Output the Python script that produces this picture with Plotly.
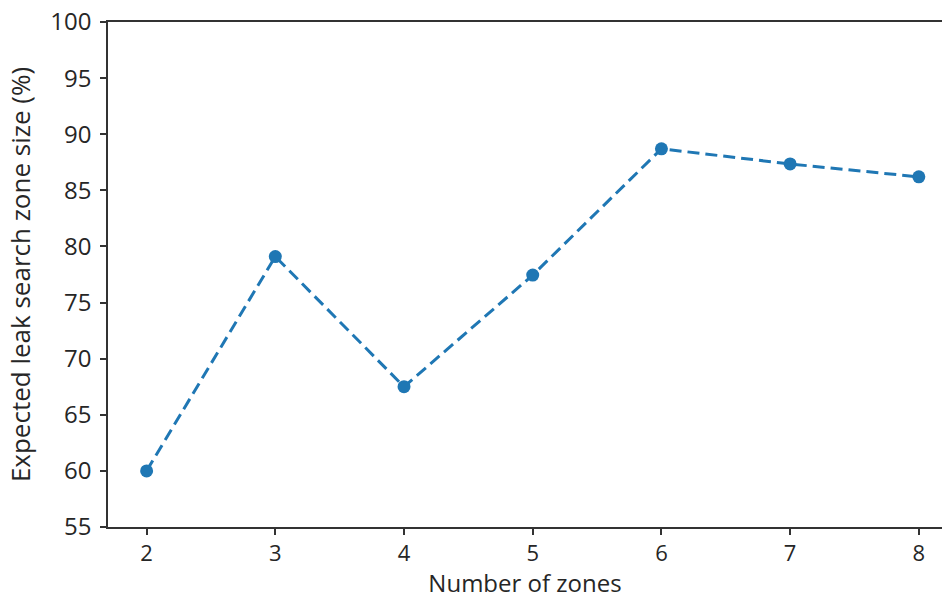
import plotly.graph_objects as go

zones = [2, 3, 4, 5, 6, 7, 8]
search_size = [60.0, 79.1, 67.5, 77.45, 88.7, 87.35, 86.2]
x_ticks = [2, 3, 4, 5, 6, 7, 8]
y_ticks = [55, 60, 65, 70, 75, 80, 85, 90, 95, 100]

FONT = "Open Sans"
fig = go.Figure()
fig.add_trace(go.Scatter(
    x=zones, y=search_size, mode="lines+markers",
    line=dict(color="#1f77b4", width=3, dash="12px,6px"),
    marker=dict(color="#1f77b4", size=13),
    showlegend=False,
))

fig.update_layout(
    width=943, height=599,
    margin=dict(l=108, r=1, t=22, b=72),
    paper_bgcolor="white", plot_bgcolor="white",
    font=dict(family=FONT, size=24, color="#262626"),
    xaxis=dict(
        range=[1.7, 8.18], tickmode="array", tickvals=x_ticks,
        ticktext=[str(t) for t in x_ticks],
        showgrid=False, zeroline=False,
        showline=True, linecolor="#333333", linewidth=1.5, mirror=True,
        ticks="outside", ticklen=6, tickwidth=1.5, tickcolor="#333333",
        tickfont=dict(size=22),
        title=dict(text="Number of zones", standoff=14, font=dict(size=24)),
    ),
    yaxis=dict(
        range=[55, 100], tickmode="array", tickvals=y_ticks,
        ticktext=[str(t) for t in y_ticks],
        showgrid=False, zeroline=False,
        showline=True, linecolor="#333333", linewidth=1.5, mirror=False,
        ticks="outside", ticklen=6, tickwidth=1.5, tickcolor="#333333",
        tickfont=dict(size=24), ticklabelstandoff=4,
        title=dict(text="Expected leak search zone size (%)", standoff=12, font=dict(size=26)),
    ),
)

fig.write_html("out.html")
